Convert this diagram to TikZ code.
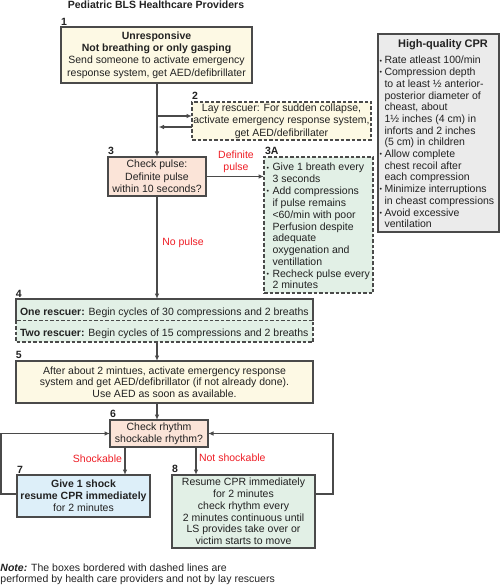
\documentclass[tikz,border=0pt]{standalone}
\usepackage{fontspec}
\setmainfont{Liberation Sans}
\usetikzlibrary{arrows.meta}
\definecolor{bordc}{HTML}{4A4A4A}
\definecolor{txtc}{HTML}{222222}
\definecolor{yel}{HTML}{FDF9E4}
\definecolor{peach}{HTML}{FBE4D8}
\definecolor{grn}{HTML}{E2F0E6}
\definecolor{blu}{HTML}{DDEFF9}
\definecolor{gry}{HTML}{EBEBEB}
\definecolor{redc}{HTML}{EE1D25}
\newcommand{\bulA}{\makebox[6pt][l]{\fontsize{7}{7}\selectfont\raisebox{0.8pt}{•}}}
\newcommand{\bulB}{\makebox[5pt][l]{\fontsize{7}{7}\selectfont\raisebox{0.8pt}{•}}}
\begin{document}
\begin{tikzpicture}[x=1pt,y=-1pt,
  every node/.style={inner sep=0pt, outer sep=0pt, text=txtc},
  fnt/.style={font=\fontsize{10.5}{12.3}\selectfont},
  box/.style={draw=bordc, line width=1.2pt, align=center, fnt},
  dbox/.style={box, dash pattern=on 3.5pt off 2pt},
  num/.style={font=\fontsize{10.5}{12}\selectfont\bfseries, anchor=south west},
  arr/.style={draw=bordc, line width=1.2pt, -{Latex[length=5.5pt,width=4.5pt]}},
  lbl/.style={text=redc, fnt},
]
\useasboundingbox (0,0) rectangle (500,585);

% title
\node[anchor=base, font=\fontsize{10.5}{12}\selectfont\bfseries] (title) at (156,9) {Pediatric BLS Healthcare Providers};

% box 1
\node[box, fill=yel, minimum width=191pt, minimum height=56pt] (b1) at (156.5,55)
  {{\bfseries Unresponsive}\\{\bfseries Not breathing or only gasping}\\Send someone to activate emergency\\response system, get AED/defibrillater};
\node[num] (n1) at ([yshift=1pt]b1.north west) {1};

% box 2
\node[dbox, fill=yel, minimum width=179pt, minimum height=38pt] (b2) at (281.5,121)
  {Lay rescuer: For sudden collapse,\\activate emergency response system,\\get AED/defibrillater};
\node[num] (n2) at ([yshift=2pt]b2.north west) {2};

% box 3
\node[box, fill=peach, minimum width=98pt, minimum height=39pt] (b3) at (157,176.5)
  {Check pulse:\\Definite pulse\\within 10 seconds?};
\node[num] (n3) at ([yshift=2pt]b3.north west) {3};

% box 3A
\node[dbox, fill=grn, minimum width=109pt, minimum height=136pt] (b3a) at (318.5,225) {};
\node[num] (n3a) at ([xshift=1pt,yshift=2pt]b3a.north west) {3A};
\node[anchor=base west, font=\fontsize{10.5}{11.8}\selectfont] (t3a) at (266.5,171)
  {\begin{tabular}[t]{@{}l@{}l@{}}
   \bulA & Give 1 breath every\\
   & 3 seconds\\
   \bulA & Add compressions\\
   & if pulse remains\\
   & <60/min with poor\\
   & Perfusion despite\\
   & adequate\\
   & oxygenation and\\
   & ventillation\\
   \bulA & Recheck pulse every\\
   & 2 minutes
  \end{tabular}};

% CPR box
\node[box, fill=gry, minimum width=121pt, minimum height=198pt] (cpr) at (438.5,133) {};
\node[anchor=base, font=\fontsize{11}{12}\selectfont\bfseries] (cprt) at (443,48) {High-quality CPR};
\node[anchor=base west, font=\fontsize{10.5}{11.7}\selectfont] (tcpr) at (379.5,64)
  {\begin{tabular}[t]{@{}l@{}l@{}}
   \bulB & Rate atleast 100/min\\
   \bulB & Compression depth\\
   & to at least ½ anterior-\\
   & posterior diameter of\\
   & cheast, about\\
   & 1½ inches (4 cm) in\\
   & inforts and 2 inches\\
   & (5 cm) in children\\
   \bulB & Allow complete\\
   & chest recoil after\\
   & each compression\\
   \bulB & Minimize interruptions\\
   & in cheast compressions\\
   \bulB & Avoid excessive\\
   & ventilation
  \end{tabular}};

% box 4
\node[fill=grn, minimum width=297pt, minimum height=43pt] (b4) at (164.5,320.5) {};
\draw[draw=bordc, line width=1.2pt] (b4.west) -- (b4.north west) -- (b4.north east) -- (b4.east);
\draw[draw=bordc, line width=1.2pt, dash pattern=on 3.5pt off 2pt] (b4.west) -- (b4.south west) -- (b4.south east) -- (b4.east) -- cycle;
\node[num] (n4) at ([yshift=2pt]b4.north west) {4};
\node[anchor=base west, fnt] (t4a) at (20,315) {\textbf{One rescuer:} Begin cycles of 30 compressions and 2 breaths};
\node[anchor=base west, fnt] (t4b) at (20,336) {\textbf{Two rescuer:} Begin cycles of 15 compressions and 2 breaths};

% box 5
\node[box, fill=yel, minimum width=297pt, minimum height=42pt, font=\fontsize{10.5}{11.6}\selectfont] (b5) at (164.5,382)
  {After about 2 mintues, activate emergency response\\system and get AED/defibrillator (if not already done).\\Use AED as soon as available.};
\node[num] (n5) at ([yshift=2pt]b5.north west) {5};

% box 6
\node[box, fill=peach, minimum width=98pt, minimum height=27pt, font=\fontsize{10.5}{12}\selectfont] (b6) at (159,433.5)
  {Check rhythm\\shockable rhythm?};
\node[num] (n6) at ([yshift=2pt]b6.north west) {6};

% box 7
\node[box, fill=blu, minimum width=133pt, minimum height=42pt, font=\fontsize{10.5}{12}\selectfont] (b7) at (83.5,496)
  {\textbf{Give 1 shock}\\\textbf{resume CPR immediately}\\for 2 minutes};
\node[num] (n7) at ([yshift=2pt]b7.north west) {7};

% box 8
\node[box, fill=grn, minimum width=143pt, minimum height=73pt, font=\fontsize{10.5}{11.8}\selectfont] (b8) at (243.5,511.5)
  {Resume CPR immediately\\for 2 minutes\\check rhythm every\\2 minutes continuous until\\LS provides take over or\\victim starts to move};
\node[num] (n8) at ([yshift=2pt]b8.north west) {8};

% red labels
\node[lbl, align=center, font=\fontsize{10.5}{12}\selectfont] (ldp) at (236,162) {Definite\\pulse};
\node[lbl] (lnp) at (183,243) {No pulse};
\node[lbl, anchor=east] (lsh) at (122,459) {Shockable};
\node[lbl, anchor=west] (lns) at (199,458) {Not shockable};

% note
\node[anchor=base west, fnt] (note1) at (0.5,571) {\textbf{\textit{Note:}} The boxes bordered with dashed lines are};
\node[anchor=base west, fnt] (note2) at (0.5,582.5) {performed by health care providers and not by lay rescuers};

% connectors
\coordinate (col) at (157,0);
\draw[arr] (b1.south -| col) -- (b3.north -| col);
\coordinate (j2a) at (157,116);
\coordinate (j2b) at (158.5,127);
\draw[arr] (j2a) -- (j2a -| b2.west);
\draw[arr] (j2b -| b2.west) -- (j2b);
\draw[arr] (b3.east) -- (b3.east -| b3a.west);
\draw[arr] (b3.south) -- (b4.north -| b3.south);
\draw[arr] (b4.south -| col) -- (b5.north -| col);
\draw[arr] (b5.south -| col) -- (b6.north -| col);
\coordinate (s7) at (125,0);
\coordinate (s8) at (196,0);
\draw[arr] (b6.south -| s7) -- (b7.north -| s7);
\draw[arr] (b6.south -| s8) -- (b8.north -| s8);
\coordinate (lp1) at (1,494);
\coordinate (lp2) at (333,494);
\draw[arr] (b7.west |- lp1) -- (lp1) |- (b6.west);
\draw[arr] (b8.east |- lp2) -- (lp2) |- (b6.east);
\end{tikzpicture}
\end{document}
